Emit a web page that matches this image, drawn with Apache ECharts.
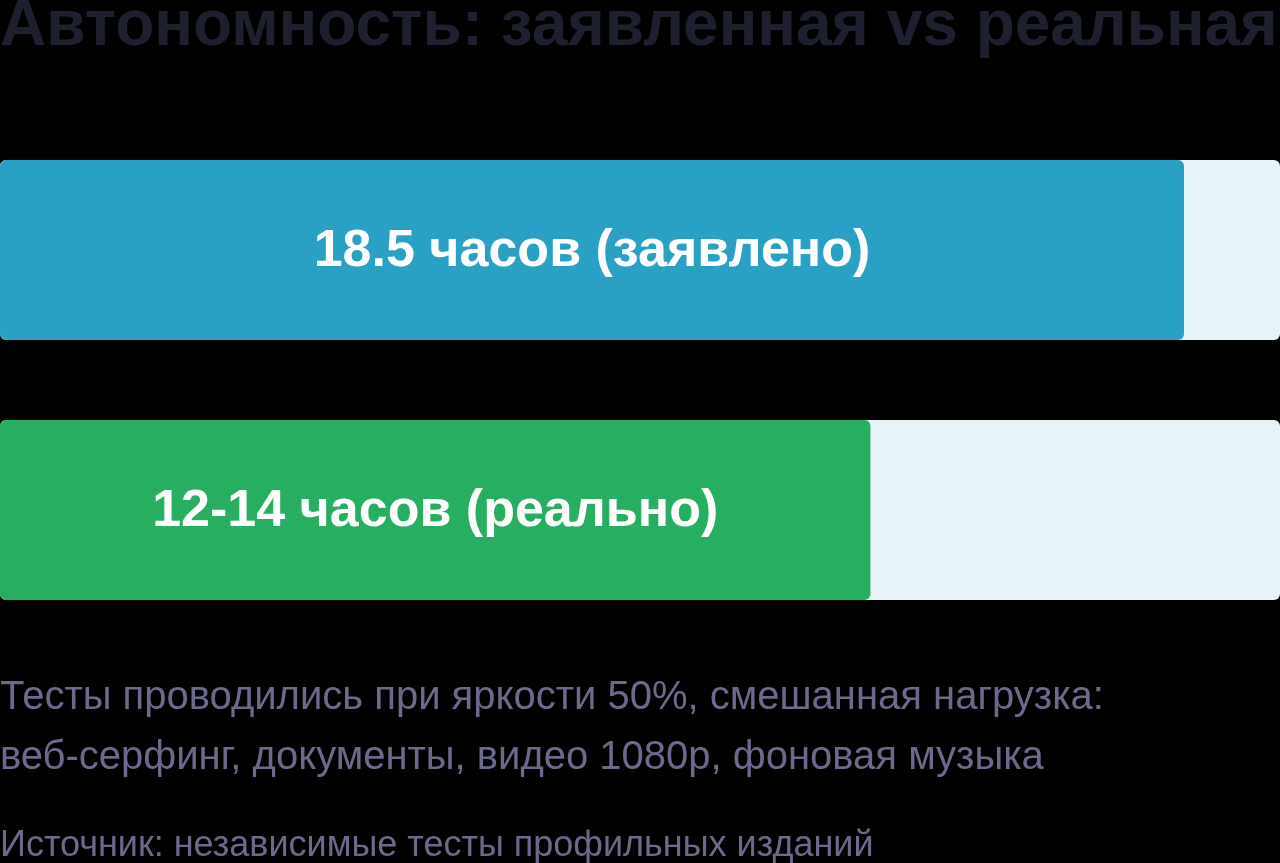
<!DOCTYPE html>
<html style="height: 100%">
<head>
    <meta charset="utf-8">
</head>
<body style="height: 100%; margin: 0; background: #000">
    <div id="container" style="width: 1280px; height: 863px"></div>
    <script type="text/javascript" src="https://cdn.jsdelivr.net/npm/echarts@6/dist/echarts.min.js"></script>
    <script type="text/javascript">
        var titleText = 'Автономность: заявленная vs реальная';
        var categories = ['Заявлено', 'Реально'];
        var values = [18.5, 13.6];
        var labels = ['18.5 часов (заявлено)', '12-14 часов (реально)'];
        var barColors = ['#2aa0c4', '#27ae60'];
        var scaleMax = 20;
        var noteLines = [
            'Тесты проводились при яркости 50%, смешанная нагрузка:',
            'веб-серфинг, документы, видео 1080p, фоновая музыка'
        ];
        var sourceText = 'Источник: независимые тесты профильных изданий';

        var font = '"Liberation Sans", Arial, sans-serif';
        var myChart = echarts.init(document.getElementById('container'));

        var option = {
            backgroundColor: '#000',
            animation: false,
            grid: { left: 0, right: 0, top: 120, height: 520 },
            xAxis: { type: 'value', min: 0, max: scaleMax, show: false },
            yAxis: {
                type: 'category', data: categories, inverse: true, show: false
            },
            series: [{
                // светлая подложка
                type: 'bar',
                data: categories.map(function () { return scaleMax; }),
                barWidth: 180,
                barGap: '-100%',
                silent: true,
                itemStyle: { color: '#e8f3f8', borderRadius: 6 },
                z: 1
            }, {
                type: 'bar',
                data: values.map(function (v, i) {
                    return { value: v, itemStyle: { color: barColors[i] } };
                }),
                barWidth: 180,
                itemStyle: { borderRadius: 6 },
                label: {
                    show: true,
                    position: 'inside',
                    offset: [0, 2],
                    color: '#fff',
                    fontFamily: font,
                    fontWeight: 'bold',
                    fontSize: 52,
                    formatter: function (p) { return labels[p.dataIndex]; }
                },
                z: 2
            }],
            graphic: [{
                type: 'text', left: 0, top: -5,
                style: { text: titleText, fill: '#1e2030', font: 'bold 64px ' + font }
            }, {
                type: 'text', left: 0, top: 668,
                style: { text: noteLines.join('\n'), fill: '#6b6a8c', font: '40px ' + font, lineHeight: 60 }
            }, {
                type: 'text', left: 0, top: 828,
                style: { text: sourceText, fill: '#6b6a8c', font: '36px ' + font }
            }]
        };

        myChart.setOption(option);
    </script>
</body>
</html>
